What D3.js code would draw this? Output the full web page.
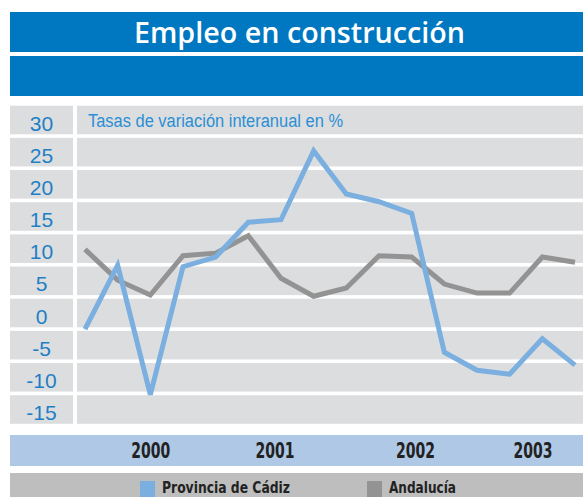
<!DOCTYPE html>
<html>
<head>
<meta charset="utf-8">
<script src="https://cdn.jsdelivr.net/npm/d3@7"></script>
<style>
  body { margin: 0; background: #fff; }
  svg { display: block; }
</style>
</head>
<body>
<div id="chart"></div>
<script>
// quarterly series, tasas de variación interanual (%)
var periods = ["1999-T3", "1999-T4", "2000-T1", "2000-T2", "2000-T3", "2000-T4",
               "2001-T1", "2001-T2", "2001-T3", "2001-T4", "2002-T1", "2002-T2",
               "2002-T3", "2002-T4", "2003-T1", "2003-T2"];
var cadiz = [-2.5, 7.4, -12.7, 7.2, 8.7, 14.1, 14.5, 25.2, 18.5, 17.3, 15.5, -6.1, -8.9, -9.5, -4.0, -8.1];
var andalucia = [9.9, 5.1, 2.8, 8.9, 9.3, 12.0, 5.4, 2.6, 3.9, 8.9, 8.7, 4.5, 3.1, 3.1, 8.7, 7.9];
var yTicks = [30, 25, 20, 15, 10, 5, 0, -5, -10, -15];
var years = ["2000", "2001", "2002", "2003"];
var yearAt = [2, 5.8, 10.1, 13.7]; // position of each year label, in quarter index
var seriesNames = ["Provincia de Cádiz", "Andalucía"];

var width = 583,
    height = 497,
    blue = "#0077c1",
    panel = "#dcdddf",
    colors = ["#7aafe0", "#939393"],
    sans = "Liberation Sans, Arial, sans-serif",
    narrow = "DejaVu Sans Condensed, Liberation Sans, sans-serif";

var svg = d3.select("#chart").append("svg")
    .attr("width", width)
    .attr("height", height);

// header bars
svg.append("rect").attr("x", 10).attr("y", 12).attr("width", width - 10).attr("height", 40).attr("fill", blue);
svg.append("rect").attr("x", 10).attr("y", 56).attr("width", width - 10).attr("height", 40).attr("fill", blue);
svg.append("text")
    .attr("x", 134).attr("y", 43)
    .attr("fill", "#fff")
    .attr("textLength", 331)
    .attr("lengthAdjust", "spacingAndGlyphs")
    .style("font-family", "Open Sans, Liberation Sans, sans-serif")
    .style("font-weight", 600)
    .style("font-size", "29px")
    .text("Empleo en construcción");

var x = d3.scalePoint().domain(periods).range([85, 575]);
var xi = d3.scaleLinear().domain([0, periods.length - 1]).range(x.range());
var y = d3.scaleLinear().domain([30, -15]).range([120, 409.5]);
var band = y(-2.5) - y(2.5), gap = 3.6;

// banded background: label column + plot panel
var bands = svg.append("g");
bands.selectAll("rect.lab").data(yTicks).enter().append("rect")
    .attr("class", "lab")
    .attr("x", 10).attr("width", 63)
    .attr("y", function(d) { return y(d + 2.5) + gap / 2; })
    .attr("height", band - gap)
    .attr("fill", panel);
bands.selectAll("rect.pl").data(yTicks).enter().append("rect")
    .attr("class", "pl")
    .attr("x", 77).attr("width", width - 77)
    .attr("y", function(d) { return y(d + 2.5) + gap / 2; })
    .attr("height", band - gap)
    .attr("fill", panel);

// y axis labels centred in the column (plain hyphen for negatives)
var gy = svg.append("g")
    .attr("transform", "translate(41.5,0)")
    .call(d3.axisLeft(y).tickValues(yTicks).tickSize(0).tickFormat(function(d) { return String(d); }));
gy.select(".domain").remove();
gy.selectAll("text")
    .attr("x", 0)
    .attr("dy", "0.48em")
    .attr("text-anchor", "middle")
    .attr("fill", "#1f7fc5")
    .style("font-family", sans)
    .style("font-size", "21px");

svg.append("text")
    .attr("x", 88).attr("y", 126.5)
    .attr("fill", "#2b8fd5")
    .attr("textLength", 255)
    .attr("lengthAdjust", "spacingAndGlyphs")
    .style("font-family", sans)
    .style("font-size", "18px")
    .text("Tasas de variación interanual en %");

// lines
var line = d3.line()
    .x(function(d, i) { return x(periods[i]); })
    .y(function(d) { return y(d); });

svg.append("g").selectAll("path")
    .data([andalucia, cadiz]).enter()
    .append("path")
      .attr("d", line)
      .attr("fill", "none")
      .attr("stroke", function(d, i) { return i === 0 ? colors[1] : colors[0]; })
      .attr("stroke-width", 5)
      .attr("stroke-linejoin", "miter");

// x axis band
svg.append("rect").attr("x", 10).attr("y", 435).attr("width", width - 10).attr("height", 31).attr("fill", "#aec8e6");
var gx = svg.append("g")
    .attr("transform", "translate(0,458)")
    .call(d3.axisBottom(xi).tickValues(yearAt).tickSize(0).tickFormat(function(d, i) { return years[i]; }));
gx.select(".domain").remove();
gx.selectAll("text")
    .attr("y", 0).attr("dy", 0)
    .attr("fill", "#222")
    .attr("textLength", 39)
    .attr("lengthAdjust", "spacingAndGlyphs")
    .style("font-family", narrow)
    .style("font-weight", "bold")
    .style("font-size", "21px");

// legend (text kept just inside the bottom edge)
svg.append("rect").attr("x", 10).attr("y", 473).attr("width", width - 10).attr("height", 30).attr("fill", "#bebebe");
var legX = [140, 367],
    legW = [128, 67];
var leg = svg.append("g").selectAll("g")
    .data(seriesNames).enter().append("g")
    .attr("transform", function(d, i) { return "translate(" + legX[i] + ",481)"; });
leg.append("rect")
    .attr("width", 15).attr("height", 16)
    .attr("fill", function(d, i) { return colors[i]; });
leg.append("text")
    .attr("x", 22).attr("y", 12)
    .attr("fill", "#222")
    .attr("textLength", function(d, i) { return legW[i]; })
    .attr("lengthAdjust", "spacingAndGlyphs")
    .style("font-family", narrow)
    .style("font-weight", "bold")
    .style("font-size", "16px")
    .text(function(d) { return d; });
</script>
</body>
</html>
